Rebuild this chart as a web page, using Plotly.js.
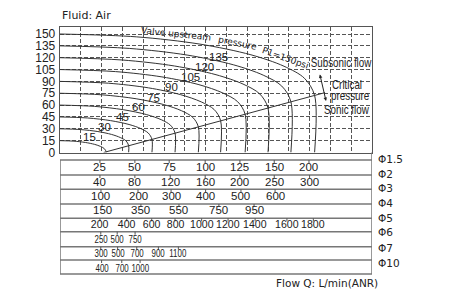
<!DOCTYPE html>
<html><head><meta charset="utf-8">
<script src="https://cdn.plot.ly/plotly-3.0.1.min.js"></script>
<style>html,body{margin:0;padding:0;background:#fff}#chart{width:450px;height:300px}</style>
</head><body><div id="chart"></div>
<script>
// ---- data ----
const pressureLevels = [15, 30, 45, 60, 75, 90, 105, 120, 135, 150];   // upstream P1 (psi)
const curveFlow = [
  [0, 0.67, 1.22, 1.67, 1.95, 2.13, 2.22, 2.22],
  [0, 0.99, 1.82, 2.48, 2.90, 3.17, 3.30, 3.30],
  [0, 1.33, 2.43, 3.32, 3.89, 4.24, 4.42, 4.42],
  [0, 1.66, 3.04, 4.15, 4.87, 5.31, 5.53, 5.53],
  [0, 2.00, 3.66, 4.99, 5.85, 6.38, 6.65, 6.65],
  [0, 2.32, 4.25, 5.79, 6.79, 7.41, 7.72, 7.72],
  [0, 2.67, 4.90, 6.68, 7.83, 8.54, 8.90, 8.90],
  [0, 3.00, 5.50, 7.50, 8.80, 9.60, 10.00, 10.00],
  [0, 3.33, 6.11, 8.33, 9.77, 10.66, 11.10, 11.10],
  [0, 3.67, 6.73, 9.18, 10.77, 11.75, 12.24, 12.24]
];
const curveOutlet = [
  [15, 14.35, 12.69, 10.25, 7.64, 4.91, 0.98, 0],
  [30, 29.03, 26.52, 22.86, 18.92, 14.81, 8.90, 0],
  [45, 43.70, 40.36, 35.46, 30.21, 24.71, 16.82, 0],
  [60, 58.37, 54.19, 48.06, 41.49, 34.61, 24.74, 0],
  [75, 73.05, 68.02, 60.66, 52.77, 44.52, 32.66, 0],
  [90, 87.72, 81.86, 73.27, 64.06, 54.42, 40.58, 0],
  [105, 102.40, 95.69, 85.87, 75.34, 64.32, 48.50, 0],
  [120, 117.07, 109.52, 98.47, 86.62, 74.22, 56.42, 0],
  [135, 131.74, 123.36, 111.08, 97.90, 84.13, 64.34, 0],
  [150, 146.42, 137.19, 123.68, 109.19, 94.03, 72.26, 0]
];
const criticalFlow = [2.1, 12.74];
const criticalOutlet = [0, 75.8];
const labelFlow = [1.44, 2.16, 3.01, 3.76, 4.49, 5.34, 6.25, 6.97, 7.61];
const labelOutlet = [20.0, 32.7, 45.4, 57.3, 69.5, 82.6, 96.1, 108.7, 121.4];
const yTicks = [0, 15, 30, 45, 60, 75, 90, 105, 120, 135, 150];
const valveText = ['Valve upstream', 'pressure', 'P1=150psi'];
const valveFlow = [5.6, 8.51, 10.84];
const valveOutlet = [150.2, 138.4, 119.6];
const orificeLabels = ['Φ1.5', 'Φ2', 'Φ3', 'Φ4', 'Φ5', 'Φ6', 'Φ7', 'Φ10'];
const rowFlowTicks = [
  [25, 50, 75, 100, 125, 150, 200],
  [40, 80, 120, 160, 200, 250, 300],
  [100, 200, 300, 400, 500, 600],
  [150, 350, 550, 750, 950],
  [200, 400, 600, 800, 1000, 1200, 1400, 1600, 1800],
  [250, 500, 750],
  [300, 500, 700, 900, 1100],
  [400, 700, 1000]
];
const rowTickAt = [
  [1.92, 3.6, 5.25, 6.98, 8.65, 10.3, 11.97],
  [1.92, 3.6, 5.3, 6.98, 8.65, 10.3, 12.0],
  [1.97, 3.75, 5.34, 7.0, 8.7, 10.34],
  [2.02, 3.89, 5.72, 7.64, 9.33],
  [1.92, 3.21, 4.41, 5.53, 6.81, 8.08, 9.38, 10.91, 12.18],
  [1.96, 2.75, 3.61],
  [1.96, 2.77, 3.69, 4.73, 5.69],
  [2.0, 2.97, 3.85]
];

// ---- layout geometry ----
const H = 300, M = {l: 60, r: 78, t: 27, b: 26};
const plotH = H - M.t - M.b;
const py = px => (H - M.b - px) / plotH;
const rowTop = [160, 175, 189.3, 204, 218.3, 231.7, 246.7, 260, 274];
const rowText = [166.5, 181.7, 196, 210.3, 224.3, 238.6, 253, 268.3];
const phiY = [159, 174, 187.5, 202.5, 217.5, 231.5, 248, 262.5];
const sans = 'Liberation Sans, Arial, sans-serif';
const ink = '#222';
const narrowSet = new Map();   // annotation index -> [scaleX, anchor]

const traces = pressureLevels.map((p, i) => ({
  x: curveFlow[i], y: curveOutlet[i], type: 'scatter', mode: 'lines',
  line: {color: '#333', width: 1, shape: 'spline', smoothing: 0.9},
  hoverinfo: 'skip'
}));
traces.push({x: criticalFlow, y: criticalOutlet, type: 'scatter', mode: 'lines',
  line: {color: '#333', width: 1}, hoverinfo: 'skip'});

const shapes = [];
const annotations = [];
const addNarrow = (ann, s, anchor) => { narrowSet.set(annotations.length, [s, anchor]); annotations.push(ann); };

rowTop.forEach(y => shapes.push({type: 'line', xref: 'x', yref: 'paper', x0: 0, x1: 15,
  y0: py(y), y1: py(y), line: {color: '#777', width: 1.5}}));
shapes.push({type: 'line', xref: 'x', yref: 'paper', x0: 0, x1: 0, y0: py(160), y1: py(274), line: {color: '#777', width: 1.5}});
shapes.push({type: 'line', xref: 'x', yref: 'paper', x0: 15, x1: 15, y0: py(152.5), y1: py(274), line: {color: '#777', width: 1.5}});

rowFlowTicks.forEach((vals, r) => {
  vals.forEach((v, k) => {
    const xv = rowTickAt[r][k];
    shapes.push({type: 'line', xref: 'x', yref: 'paper', x0: xv, x1: xv,
      y0: py(rowTop[r]), y1: py(rowTop[r] + 3), line: {color: '#555', width: 1}});
    const ann = {xref: 'x', yref: 'paper', x: xv, y: py(rowText[r]), text: String(v),
      showarrow: false, xanchor: 'center', yanchor: 'middle',
      font: {family: sans, size: r >= 5 ? 11 : 11.5, color: ink}};
    if (r >= 5) addNarrow(ann, 0.72, 'c');
    else if (r === 4) addNarrow(ann, 0.92, 'c');
    else annotations.push(ann);
  });
});
orificeLabels.forEach((t, r) => annotations.push({xref: 'paper', yref: 'paper', x: (376 - M.l) / 312, y: py(phiY[r]),
  text: t, showarrow: false, xanchor: 'left', yanchor: 'middle', font: {family: 'DejaVu Sans', size: 10.5, color: ink}}));

labelFlow.forEach((x, i) => annotations.push({xref: 'x', yref: 'y', x: x, y: labelOutlet[i], text: String(pressureLevels[i]),
  showarrow: false, font: {family: sans, size: 11.5, color: ink}}));

const valveAngle = [6, 11.5, 19.5];
valveText.forEach((t, i) => annotations.push({xref: 'x', yref: 'y', x: valveFlow[i], y: valveOutlet[i], text: t,
  textangle: valveAngle[i], showarrow: false, font: {family: 'DejaVu Sans', size: 9, color: ink}}));

addNarrow({xref: 'x', yref: 'y', x: 13.49, y: 113.1, text: 'Subsonic flow', showarrow: false, font: {family: sans, size: 12, color: ink}}, 0.82, 'c');
addNarrow({xref: 'x', yref: 'y', x: 12.98, y: 85.6, text: 'Critical', xanchor: 'left', showarrow: false, font: {family: sans, size: 12, color: ink}}, 0.82, 'l');
addNarrow({xref: 'x', yref: 'y', x: 12.92, y: 71.5, text: 'pressure', xanchor: 'left', showarrow: false, font: {family: sans, size: 12, color: ink}}, 0.82, 'l');
addNarrow({xref: 'x', yref: 'y', x: 12.58, y: 53.9, text: 'Sonic flow', xanchor: 'left', showarrow: false, font: {family: sans, size: 12, color: ink}}, 0.82, 'l');
annotations.push({xref: 'x', yref: 'y', x: 12.79, y: 65.2, ax: -6.5, ay: -28, text: '', showarrow: true,
  arrowhead: 2, startarrowhead: 2, arrowside: 'end+start', arrowsize: 0.7, arrowwidth: 1, arrowcolor: '#222'});

annotations.push({xref: 'paper', yref: 'paper', x: 0, y: py(16), text: 'Fluid: Air', xanchor: 'left', yanchor: 'middle',
  showarrow: false, font: {family: 'DejaVu Sans', size: 11, color: ink}});
annotations.push({xref: 'paper', yref: 'paper', x: (274 - M.l) / 312, y: py(283.3), text: 'Flow Q: L/min(ANR)', xanchor: 'left', yanchor: 'middle',
  showarrow: false, font: {family: 'DejaVu Sans', size: 10.5, color: ink}});

const layout = {
  width: 450, height: 300, margin: M, showlegend: false,
  paper_bgcolor: '#fff', plot_bgcolor: '#fff',
  font: {family: sans, size: 11, color: ink},
  xaxis: {range: [0, 15], tick0: 0, dtick: 1, showticklabels: false, ticks: '', showgrid: true,
    gridcolor: '#555', griddash: '4px,2px', gridwidth: 1, zeroline: false,
    showline: true, mirror: true, linecolor: '#555', linewidth: 1.3, fixedrange: true},
  yaxis: {domain: [py(152.5), 1], range: [0, 158.86], tickvals: yTicks, ticks: '', showgrid: true,
    gridcolor: '#555', griddash: '4px,2px', gridwidth: 1, zeroline: false,
    showline: true, mirror: true, linecolor: '#555', linewidth: 1.3,
    tickfont: {family: sans, size: 12, color: ink}, ticklabelstandoff: 1, fixedrange: true},
  shapes: shapes, annotations: annotations
};
Plotly.newPlot('chart', traces, layout, {staticPlot: true, displayModeBar: false}).then(gd => {
  // condensed lettering, as in the reference (no narrow face installed)
  gd.querySelectorAll('g.annotation').forEach(g => {
    const idx = +g.getAttribute('data-index');
    if (!narrowSet.has(idx)) return;
    const [s, anchor] = narrowSet.get(idx);
    const t = g.querySelector('text.annotation-text');
    if (!t) return;
    const bb = t.getBBox();
    const cx = anchor === 'l' ? bb.x : bb.x + bb.width / 2;
    t.setAttribute('transform', `translate(${cx},0) scale(${s},1) translate(${-cx},0)`);
  });
});
</script></body></html>
